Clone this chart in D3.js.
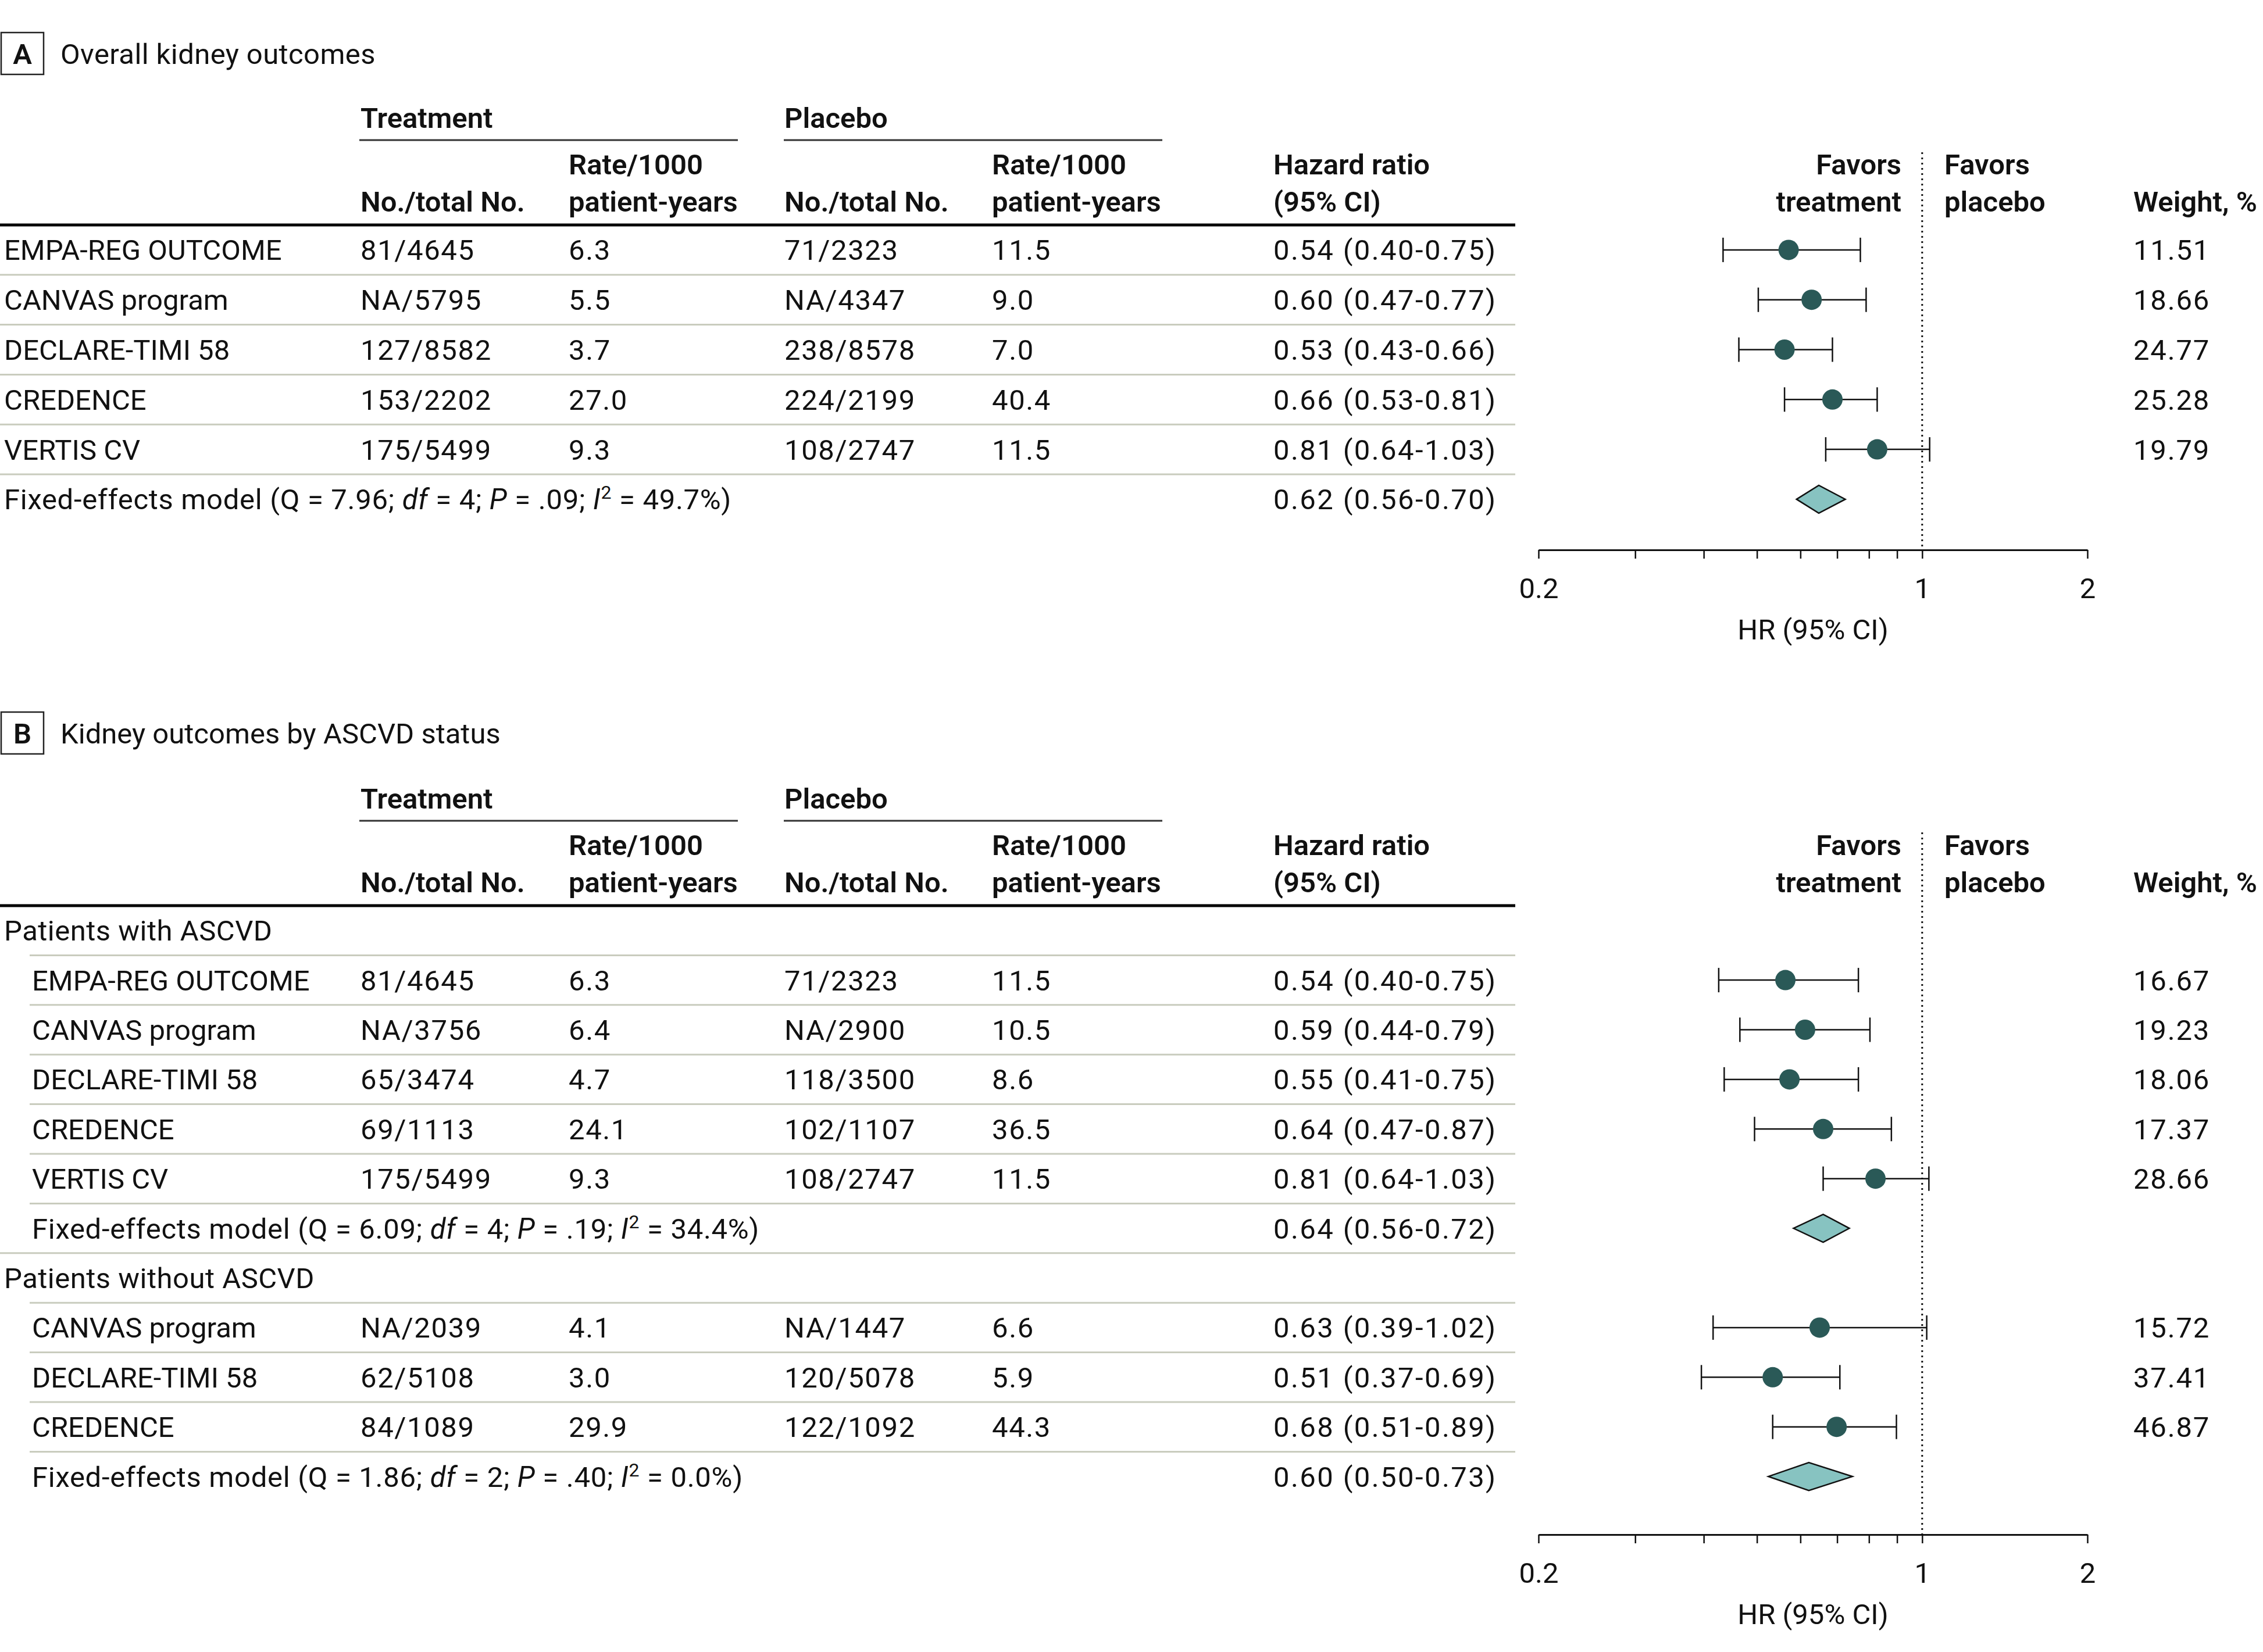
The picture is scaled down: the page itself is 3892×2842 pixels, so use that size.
<!DOCTYPE html>
<html><head><meta charset="utf-8">
<script src="https://cdn.jsdelivr.net/npm/d3@7"></script>
<style>
body{margin:0;background:#fff}
svg{display:block}
text{font-family:Roboto,"Noto Sans",sans-serif;fill:#111}
</style>
</head><body><svg id="c" width="3892" height="2842"></svg>
<script>
// ---------------- DATA ----------------
// Panel A: overall kidney outcomes
const studiesA   = ["EMPA-REG OUTCOME","CANVAS program","DECLARE-TIMI 58","CREDENCE","VERTIS CV"];
const trtNA      = ["81/4645","NA/5795","127/8582","153/2202","175/5499"];
const trtRateA   = ["6.3","5.5","3.7","27.0","9.3"];
const plcNA      = ["71/2323","NA/4347","238/8578","224/2199","108/2747"];
const plcRateA   = ["11.5","9.0","7.0","40.4","11.5"];
const hrA        = [0.54,0.60,0.53,0.66,0.81];
const loA        = [0.40,0.47,0.43,0.53,0.64];
const hiA        = [0.75,0.77,0.66,0.81,1.03];
const weightA    = ["11.51","18.66","24.77","25.28","19.79"];
const pooledA    = [0.62,0.56,0.70];            // HR, lo, hi
const statsA     = ["7.96","4",".09","49.7%"];  // Q, df, P, I2

// Panel B: patients with ASCVD
const studiesB1  = ["EMPA-REG OUTCOME","CANVAS program","DECLARE-TIMI 58","CREDENCE","VERTIS CV"];
const trtNB1     = ["81/4645","NA/3756","65/3474","69/1113","175/5499"];
const trtRateB1  = ["6.3","6.4","4.7","24.1","9.3"];
const plcNB1     = ["71/2323","NA/2900","118/3500","102/1107","108/2747"];
const plcRateB1  = ["11.5","10.5","8.6","36.5","11.5"];
const hrB1       = [0.54,0.59,0.55,0.64,0.81];
const loB1       = [0.40,0.44,0.41,0.47,0.64];
const hiB1       = [0.75,0.79,0.75,0.87,1.03];
const weightB1   = ["16.67","19.23","18.06","17.37","28.66"];
const pooledB1   = [0.64,0.56,0.72];
const statsB1    = ["6.09","4",".19","34.4%"];

// Panel B: patients without ASCVD
const studiesB2  = ["CANVAS program","DECLARE-TIMI 58","CREDENCE"];
const trtNB2     = ["NA/2039","62/5108","84/1089"];
const trtRateB2  = ["4.1","3.0","29.9"];
const plcNB2     = ["NA/1447","120/5078","122/1092"];
const plcRateB2  = ["6.6","5.9","44.3"];
const hrB2       = [0.63,0.51,0.68];
const loB2       = [0.39,0.37,0.51];
const hiB2       = [1.02,0.69,0.89];
const weightB2   = ["15.72","37.41","46.87"];
const pooledB2   = [0.60,0.50,0.73];
const statsB2    = ["1.86","2",".40","0.0%"];

const axisTicks   = [0.2,0.3,0.4,0.5,0.6,0.7,0.8,0.9,1,2];
const axisLabels  = [0.2,1,2];
const groupLabels = ["Patients with ASCVD","Patients without ASCVD"];

// ---------------- BUILD ROWS ----------------
function studyRows(names,tN,tR,pN,pR,hr,lo,hi,w,indent){
  return names.map((s,i)=>({type:"study",label:s,indent,tN:tN[i],tR:tR[i],pN:pN[i],pR:pR[i],hr:hr[i],lo:lo[i],hi:hi[i],w:w[i]}));
}
function pooledRow(p,st,indent){
  return {type:"pooled",indent,hr:p[0],lo:p[1],hi:p[2],stats:st};
}
const rowsA = studyRows(studiesA,trtNA,trtRateA,plcNA,plcRateA,hrA,loA,hiA,weightA,false)
  .concat([pooledRow(pooledA,statsA,false)]);
const rowsB = [{type:"group",label:groupLabels[0]}]
  .concat(studyRows(studiesB1,trtNB1,trtRateB1,plcNB1,plcRateB1,hrB1,loB1,hiB1,weightB1,true))
  .concat([pooledRow(pooledB1,statsB1,true)])
  .concat([{type:"group",label:groupLabels[1]}])
  .concat(studyRows(studiesB2,trtNB2,trtRateB2,plcNB2,plcRateB2,hrB2,loB2,hiB2,weightB2,true))
  .concat([pooledRow(pooledB2,statsB2,true)]);

// ---------------- DRAW ----------------
const W=3892,H=2842,FS=49,CAP=17.5;
const svg=d3.select("#c");
svg.append("rect").attr("width",W).attr("height",H).attr("fill","#fff");

const col={label:7,indent:55,tN:620,tR:978,pN:1349,pR:1706,hr:2190,favR:3270,favL:3344,w:3669,tableEnd:2606};
const ptFill="#2a5957", diaFill="#87c3c1", sepCol="#c9ccbe";

function txt(g,x,y,s,opt={}){
  const t=g.append("text").attr("x",x).attr("y",y+CAP)
    .attr("font-size",opt.fs||FS).attr("font-weight",opt.bold?600:400)
    .attr("text-anchor",opt.anchor||"start").text(s);
  if(opt.ls) t.attr("letter-spacing",opt.ls);
  return t;
}

function drawPanel(cfg){
  const g=svg.append("g");
  const T=cfg.thick;
  // panel letter box + title
  const boxTop=T-cfg.boxOff;
  g.append("rect").attr("x",2).attr("y",boxTop).attr("width",73).attr("height",72)
    .attr("fill","none").attr("stroke","#222").attr("stroke-width",2.5);
  txt(g,38.5,boxTop+36,cfg.letter,{bold:true,anchor:"middle"});
  txt(g,104,boxTop+36,cfg.title,{ls:cfg.titleLs});

  // column headers
  txt(g,col.tN,T-185,"Treatment",{bold:true});
  txt(g,col.pN,T-185,"Placebo",{bold:true});
  g.append("line").attr("x1",618).attr("x2",1269).attr("y1",T-146).attr("y2",T-146).attr("stroke","#333").attr("stroke-width",3);
  g.append("line").attr("x1",1348).attr("x2",1999).attr("y1",T-146).attr("y2",T-146).attr("stroke","#333").attr("stroke-width",3);
  txt(g,col.tR,T-105,"Rate/1000",{bold:true});
  txt(g,col.tR,T-41,"patient-years",{bold:true});
  txt(g,col.tN,T-41,"No./total No.",{bold:true});
  txt(g,col.pR,T-105,"Rate/1000",{bold:true});
  txt(g,col.pR,T-41,"patient-years",{bold:true});
  txt(g,col.pN,T-41,"No./total No.",{bold:true});
  txt(g,col.hr,T-105,"Hazard ratio",{bold:true});
  txt(g,col.hr,T-41,"(95% CI)",{bold:true});
  txt(g,col.favR,T-105,"Favors",{bold:true,anchor:"end"});
  txt(g,col.favR,T-41,"treatment",{bold:true,anchor:"end"});
  txt(g,col.favL,T-105,"Favors",{bold:true});
  txt(g,col.favL,T-41,"placebo",{bold:true});
  txt(g,col.w,T-41,"Weight, %",{bold:true});

  // thick rule
  g.append("line").attr("x1",0).attr("x2",col.tableEnd).attr("y1",T).attr("y2",T).attr("stroke","#000").attr("stroke-width",5);

  const rows=cfg.rows;
  const y=d3.scaleBand().domain(d3.range(rows.length)).range([T,T+cfg.step*rows.length]).paddingInner(0).paddingOuter(0);
  const yc=i=>y(i)+y.bandwidth()/2;

  const xAxis=d3.scaleLog().domain([0.2,2]).range([2646,3590]);
  const xMark=d3.scaleLog().domain([0.2,2]).range(cfg.markRange);

  // separators
  rows.forEach((r,i)=>{
    if(i===rows.length-1) return;
    const next=rows[i+1];
    const x1=(cfg.indentSeps && next.type!=="group")?51:0;
    g.append("line").attr("x1",x1).attr("x2",col.tableEnd).attr("y1",y(i)+y.bandwidth()).attr("y2",y(i)+y.bandwidth())
      .attr("stroke",sepCol).attr("stroke-width",3);
  });

  // dotted null line
  g.append("line").attr("x1",xAxis(1)).attr("x2",xAxis(1)).attr("y1",cfg.dotTop).attr("y2",cfg.axisY)
    .attr("stroke","#111").attr("stroke-width",3).attr("stroke-dasharray","3 6");

  rows.forEach((r,i)=>{
    const cy=yc(i);
    const lx=r.indent?col.indent:col.label;
    if(r.type==="group"){ txt(g,col.label,cy,r.label,{ls:0.5}); return; }
    const hrTxt=`${r.hr.toFixed(2)} (${r.lo.toFixed(2)}-${r.hi.toFixed(2)})`;
    txt(g,col.hr,cy,hrTxt,{ls:2.4});
    if(r.type==="study"){
      txt(g,lx,cy,r.label);
      txt(g,col.tN,cy,r.tN,{ls:1.6}); txt(g,col.tR,cy,r.tR,{ls:1.6});
      txt(g,col.pN,cy,r.pN,{ls:1.6}); txt(g,col.pR,cy,r.pR,{ls:1.6});
      txt(g,col.w,cy,r.w,{ls:1.8});
      g.append("line").attr("x1",xMark(r.lo)).attr("x2",xMark(r.hi)).attr("y1",cy).attr("y2",cy).attr("stroke","#111").attr("stroke-width",2.5);
      [r.lo,r.hi].forEach(v=>g.append("line").attr("x1",xMark(v)).attr("x2",xMark(v)).attr("y1",cy-21).attr("y2",cy+21).attr("stroke","#111").attr("stroke-width",2.5));
      g.append("circle").attr("cx",xMark(r.hr)).attr("cy",cy).attr("r",17.5).attr("fill",ptFill);
    } else {
      const t=g.append("text").attr("x",lx).attr("y",cy+CAP).attr("font-size",FS).attr("letter-spacing",0.7);
      const s=r.stats;
      t.append("tspan").text(`Fixed-effects model (Q = ${s[0]}; `);
      t.append("tspan").attr("font-style","italic").text("df");
      t.append("tspan").text(` = ${s[1]}; `);
      t.append("tspan").attr("font-style","italic").text("P");
      t.append("tspan").text(` = ${s[2]}; `);
      t.append("tspan").attr("font-style","italic").text("I");
      t.append("tspan").attr("font-size",32).attr("dy",-18).text("2");
      t.append("tspan").attr("dy",18).text(` = ${s[3]})`);
      const pts=[[xMark(r.lo),cy],[xMark(r.hr),cy-24],[xMark(r.hi),cy],[xMark(r.hr),cy+24]];
      g.append("path").attr("d","M"+pts.join("L")+"Z").attr("fill",diaFill).attr("stroke","#111").attr("stroke-width",2.5).attr("stroke-linejoin","miter");
    }
  });

  // axis
  const ax=g.append("g").attr("transform",`translate(0,${cfg.axisY})`)
    .call(d3.axisBottom(xAxis).tickValues(axisTicks).tickSize(15).tickSizeOuter(0).tickPadding(33)
      .tickFormat(d=>axisLabels.includes(d)?String(d):""));
  ax.select(".domain").attr("stroke","#111").attr("stroke-width",3);
  ax.selectAll(".tick line").attr("stroke","#111").attr("stroke-width",2.5);
  ax.selectAll(".tick text").attr("font-size",FS).attr("font-family","Roboto,'Noto Sans',sans-serif").attr("fill","#111");
  txt(g,(xAxis.range()[0]+xAxis.range()[1])/2,cfg.axisY+136,"HR (95% CI)",{anchor:"middle"});
}

drawPanel({letter:"A",title:"Overall kidney outcomes",titleLs:0.4,thick:387,boxOff:331,step:85.8,rows:rowsA,
  axisY:946,dotTop:262,markRange:[2703,3568],indentSeps:false});
drawPanel({letter:"B",title:"Kidney outcomes by ASCVD status",titleLs:0,thick:1558,boxOff:333,step:85.4,rows:rowsB,
  axisY:2640,dotTop:1432,markRange:[2691,3571],indentSeps:true});
</script></body></html>
